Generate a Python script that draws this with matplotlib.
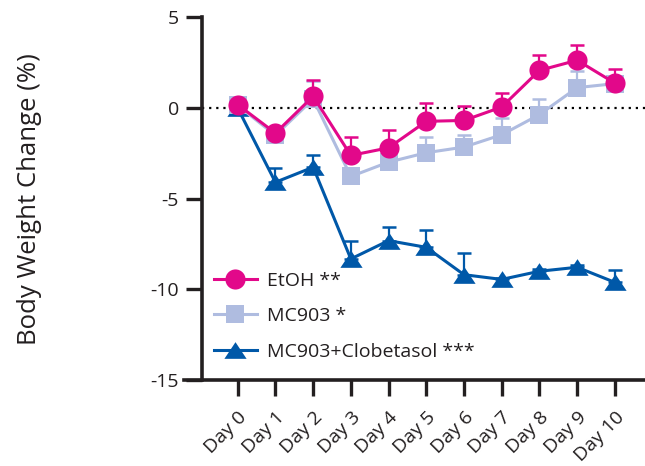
import matplotlib
matplotlib.use("Agg")
import matplotlib.pyplot as plt
import numpy as np

plt.rcParams['font.family'] = ['Open Sans', 'DejaVu Sans']

days = ["Day 0", "Day 1", "Day 2", "Day 3", "Day 4", "Day 5",
        "Day 6", "Day 7", "Day 8", "Day 9", "Day 10"]

etoh = [0.19, -1.38, 0.65, -2.61, -2.19, -0.73, -0.68, 0.06, 2.08, 2.64, 1.38]
etoh_err = [0.1, 0.2, 0.88, 1.0, 1.0, 1.0, 0.77, 0.77, 0.83, 0.82, 0.8]

mc903 = [0.15, -1.5, 0.5, -3.77, -2.98, -2.46, -2.15, -1.47, -0.36, 1.13, 1.35]
mc903_err = [0.1, 0.2, 1.0, 0.2, 0.6, 0.89, 0.64, 0.94, 0.88, 0.9, 0.3]

clob = [0.0, -4.09, -3.26, -8.32, -7.31, -7.68, -9.19, -9.45, -9.0, -8.78, -9.61]
clob_err = [0.1, 0.81, 0.69, 0.97, 0.77, 0.98, 1.2, 0.1, 0.1, 0.1, 0.68]

col_etoh = "#E2088A"
col_mc = "#AFBCE0"
col_clob = "#0058A8"
txt = "#231F20"

tri = [(-1, -0.75), (1, -0.75), (0, 0.75), (-1, -0.75)]

fig = plt.figure(figsize=(6.45, 4.66), dpi=100)
ax = fig.add_axes([0.313, 0.1845, 0.687, 0.778])

x = np.arange(len(days))

ax.axhline(0, color="black", linestyle=(0, (1, 2.2)), linewidth=1.6, zorder=1)

series = [
    (clob, clob_err, col_clob, tri, 16, "MC903+Clobetasol ***", 2),
    (mc903, mc903_err, col_mc, "s", 13, "MC903 *", 3),
    (etoh, etoh_err, col_etoh, "o", 14.5, "EtOH **", 4),
]
handles = {}
for y, err, c, m, ms, lab, z in series:
    ax.errorbar(x, y, yerr=[np.zeros(len(err)), err], fmt="none",
                ecolor=c, elinewidth=1.6, capsize=4.8, capthick=1.8, zorder=z)
    h, = ax.plot(x, y, color=c, linewidth=2.2, marker=m, markersize=ms,
                 markeredgewidth=0, label=lab, zorder=z + 0.5)
    handles[lab] = h

ax.set_xlim(-0.95, 10.8)
ax.set_ylim(-15, 5)
ax.set_yticks([5, 0, -5, -10, -15])
ax.set_yticklabels(["5", "0", "-5", "-10", "-15"])
ax.set_xticks(x)
ax.set_xticklabels(days, rotation=45, ha="right", va="top", rotation_mode="anchor")

for s in ["top", "right"]:
    ax.spines[s].set_visible(False)
for s in ["left", "bottom"]:
    ax.spines[s].set_linewidth(2.6)
    ax.spines[s].set_color(txt)
ax.spines["bottom"].set_bounds(-1.43, 10.8)

ax.tick_params(axis="y", length=11.5, width=2.4, color=txt,
               labelsize=14, pad=5, labelcolor=txt)
ax.tick_params(axis="x", length=11.5, width=2.4, color=txt,
               labelsize=14, pad=9, labelcolor=txt)

ax.set_ylabel("Body Weight Change (%)", fontsize=18.5, color=txt)
ax.yaxis.set_label_coords(-0.36, 0.5)

order = ["EtOH **", "MC903 *", "MC903+Clobetasol ***"]
leg = ax.legend([handles[k] for k in order], order, loc="upper left",
                bbox_to_anchor=(0.01, 0.32), frameon=False, fontsize=14,
                handlelength=2.2, handletextpad=0.5, labelspacing=0.9,
                borderaxespad=0)
for t in leg.get_texts():
    t.set_color(txt)

fig.savefig("out.png", dpi=100)
